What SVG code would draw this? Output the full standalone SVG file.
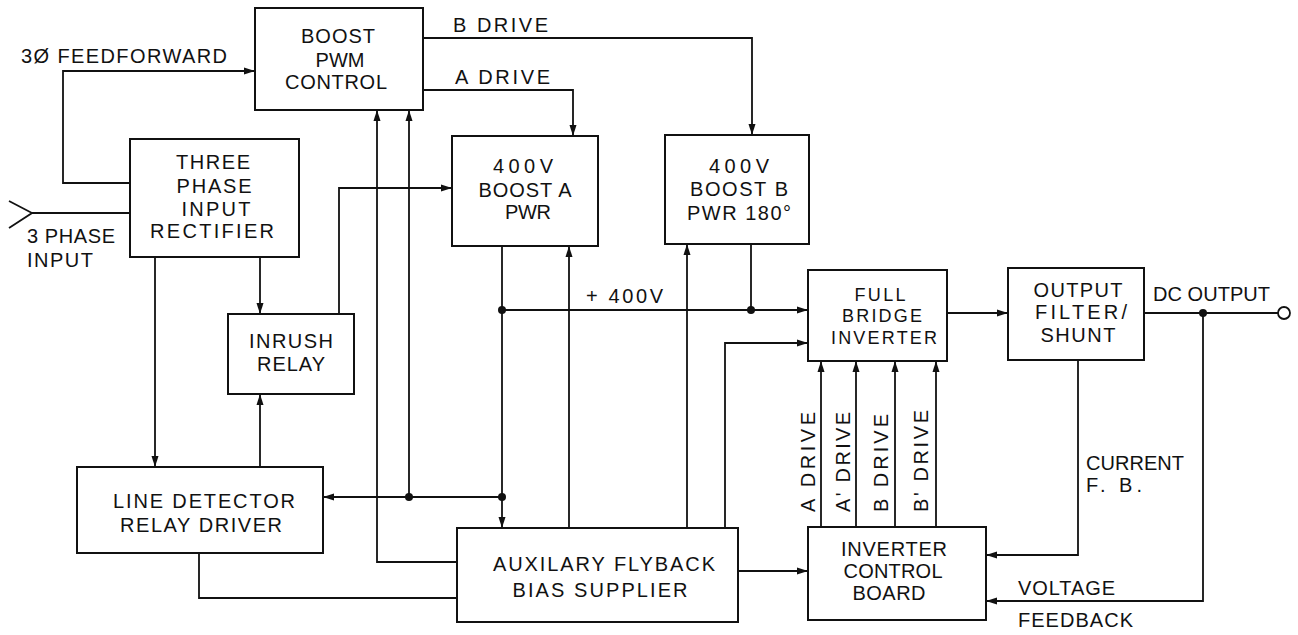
<svg xmlns="http://www.w3.org/2000/svg" width="1298" height="635" viewBox="0 0 1298 635">
<style>
.box{fill:#fff;stroke:#111;stroke-width:2}
.ln{fill:none;stroke:#111;stroke-width:1.8}
.t{font-family:"Liberation Sans",Arial,sans-serif;font-size:20px;fill:#111}
.s{font-size:18px}
.m{text-anchor:middle}
.dot{fill:#111}
</style>
<defs>
<marker id="ar" markerWidth="12" markerHeight="8" refX="11" refY="4" orient="auto" markerUnits="userSpaceOnUse">
<path d="M0,0.5 L11,4 L0,7.5 z" fill="#111"/>
</marker>
</defs>
<rect width="1298" height="635" fill="#fff"/>
<g id="connectors">
<polyline class="ln" points="130,183 63,183 63,71 255,71" marker-end="url(#ar)"/>
<polyline class="ln" points="423,38 752,38 752,135" marker-end="url(#ar)"/>
<polyline class="ln" points="423,90 573,90 573,136" marker-end="url(#ar)"/>
<line class="ln" x1="32" y1="213" x2="130" y2="213"/>
<polyline class="ln" points="9,201 32,213 9,228"/>
<line class="ln" x1="155" y1="257" x2="155" y2="467" marker-end="url(#ar)"/>
<line class="ln" x1="260" y1="257" x2="260" y2="314" marker-end="url(#ar)"/>
<line class="ln" x1="260" y1="467" x2="260" y2="394" marker-end="url(#ar)"/>
<polyline class="ln" points="339,314 339,188 452,188" marker-end="url(#ar)"/>
<polyline class="ln" points="457,562 377,562 377,110" marker-end="url(#ar)"/>
<line class="ln" x1="409" y1="497" x2="409" y2="110" marker-end="url(#ar)"/>
<line class="ln" x1="502" y1="497" x2="323" y2="497" marker-end="url(#ar)"/>
<line class="ln" x1="502" y1="246" x2="502" y2="528" marker-end="url(#ar)"/>
<line class="ln" x1="502" y1="310" x2="808" y2="310" marker-end="url(#ar)"/>
<line class="ln" x1="751" y1="244" x2="751" y2="310"/>
<line class="ln" x1="569" y1="528" x2="569" y2="246" marker-end="url(#ar)"/>
<line class="ln" x1="687" y1="528" x2="687" y2="244" marker-end="url(#ar)"/>
<polyline class="ln" points="725,528 725,343 808,343" marker-end="url(#ar)"/>
<line class="ln" x1="738" y1="571" x2="808" y2="571" marker-end="url(#ar)"/>
<polyline class="ln" points="199,553 199,598 457,598"/>
<line class="ln" x1="947" y1="313" x2="1008" y2="313" marker-end="url(#ar)"/>
<line class="ln" x1="1144" y1="313" x2="1278" y2="313"/>
<circle cx="1284" cy="313" r="6" fill="#fff" stroke="#111" stroke-width="1.8"/>
<polyline class="ln" points="1078,360 1078,555 986,555" marker-end="url(#ar)"/>
<polyline class="ln" points="1203,313 1203,601 986,601" marker-end="url(#ar)"/>
<line class="ln" x1="821" y1="527" x2="821" y2="361" marker-end="url(#ar)"/>
<line class="ln" x1="856" y1="527" x2="856" y2="361" marker-end="url(#ar)"/>
<line class="ln" x1="895" y1="527" x2="895" y2="361" marker-end="url(#ar)"/>
<line class="ln" x1="936" y1="527" x2="936" y2="361" marker-end="url(#ar)"/>
<circle class="dot" cx="502" cy="310" r="4"/>
<circle class="dot" cx="751" cy="310" r="4"/>
<circle class="dot" cx="409" cy="497" r="4"/>
<circle class="dot" cx="502" cy="497" r="4"/>
<circle class="dot" cx="1203" cy="313" r="4"/>
</g>
<g id="labels">
<text class="t" x="21" y="63" textLength="206">3Ø FEEDFORWARD</text>
<text class="t" x="27" y="243" textLength="88">3 PHASE</text>
<text class="t" x="27" y="267" textLength="66">INPUT</text>
<text class="t" x="453" y="32" textLength="95">B DRIVE</text>
<text class="t" x="455" y="84" textLength="95">A DRIVE</text>
<text class="t" x="586" y="303" textLength="77">+ 400V</text>
<text class="t" x="1153" y="301" textLength="117">DC OUTPUT</text>
<text class="t" x="1086" y="470" textLength="98">CURRENT</text>
<text class="t" x="1086" y="492" textLength="56">F. B.</text>
<text class="t" x="1018" y="595" textLength="97">VOLTAGE</text>
<text class="t" x="1018" y="627" textLength="115">FEEDBACK</text>
<text class="t" transform="translate(815,512) rotate(-90)" textLength="100">A DRIVE</text>
<text class="t" transform="translate(850,512) rotate(-90)" textLength="100">A' DRIVE</text>
<text class="t" transform="translate(888,512) rotate(-90)" textLength="98">B DRIVE</text>
<text class="t" transform="translate(928,512) rotate(-90)" textLength="102">B' DRIVE</text>
</g>
<g id="boost-pwm">
<rect class="box" x="255" y="8" width="168" height="102"/>
<text class="t m" x="338" y="43" textLength="74">BOOST</text>
<text class="t m" x="340" y="67" textLength="49">PWM</text>
<text class="t m" x="336" y="89" textLength="102">CONTROL</text>
</g>
<g id="rectifier">
<rect class="box" x="130" y="139" width="169" height="118"/>
<text class="t m" x="213" y="169" textLength="74">THREE</text>
<text class="t m" x="214" y="193" textLength="75">PHASE</text>
<text class="t m" x="216" y="216" textLength="69">INPUT</text>
<text class="t m" x="212" y="238" textLength="124">RECTIFIER</text>
</g>
<g id="inrush">
<rect class="box" x="228" y="314" width="126" height="80"/>
<text class="t m" x="291" y="348" textLength="84">INRUSH</text>
<text class="t m" x="291" y="371" textLength="68">RELAY</text>
</g>
<g id="line-detector">
<rect class="box" x="77" y="467" width="246" height="86"/>
<text class="t m" x="204" y="508" textLength="182">LINE DETECTOR</text>
<text class="t m" x="201" y="532" textLength="162">RELAY DRIVER</text>
</g>
<g id="boost-a">
<rect class="box" x="452" y="136" width="146" height="110"/>
<text class="t m" x="523" y="173" textLength="60">400V</text>
<text class="t m" x="525" y="197" textLength="93">BOOST A</text>
<text class="t m" x="528" y="219" textLength="46">PWR</text>
</g>
<g id="boost-b">
<rect class="box" x="665" y="135" width="144" height="109"/>
<text class="t m" x="739" y="173" textLength="60">400V</text>
<text class="t m" x="739" y="196" textLength="98">BOOST B</text>
<text class="t m" x="739" y="220" textLength="104">PWR 180°</text>
</g>
<g id="aux-flyback">
<rect class="box" x="457" y="528" width="281" height="94"/>
<text class="t m" x="604" y="571" textLength="222">AUXILARY FLYBACK</text>
<text class="t m" x="600" y="597" textLength="175">BIAS SUPPLIER</text>
</g>
<g id="full-bridge">
<rect class="box" x="808" y="270" width="139" height="91"/>
<text class="t s m" x="880" y="301" textLength="51">FULL</text>
<text class="t s m" x="882" y="322" textLength="80">BRIDGE</text>
<text class="t s m" x="884" y="344" textLength="106">INVERTER</text>
</g>
<g id="output-filter">
<rect class="box" x="1008" y="268" width="136" height="92"/>
<text class="t m" x="1078" y="297" textLength="89">OUTPUT</text>
<text class="t m" x="1081" y="319" textLength="92">FILTER/</text>
<text class="t m" x="1078" y="342" textLength="75">SHUNT</text>
</g>
<g id="inverter-control">
<rect class="box" x="808" y="527" width="178" height="93"/>
<text class="t m" x="894" y="556" textLength="106">INVERTER</text>
<text class="t m" x="893" y="578" textLength="99">CONTROL</text>
<text class="t m" x="889" y="600" textLength="73">BOARD</text>
</g>
</svg>
